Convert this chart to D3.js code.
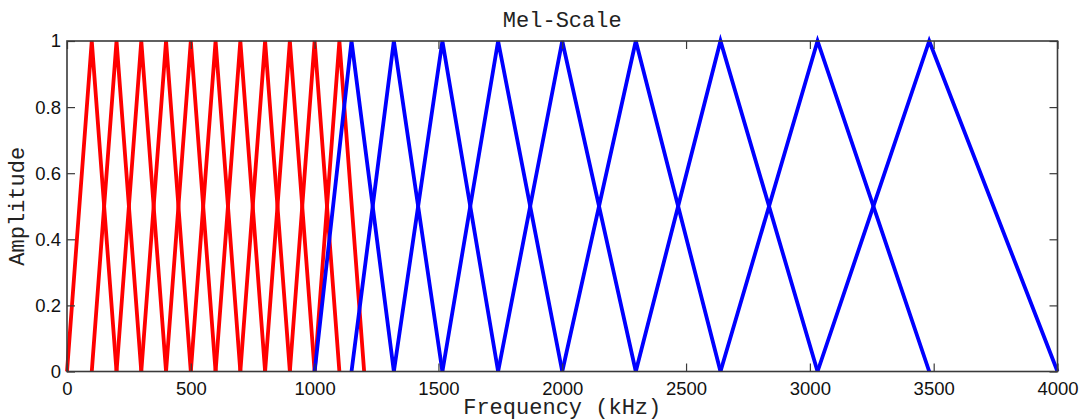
<!DOCTYPE html>
<html>
<head>
<meta charset="utf-8">
<script src="https://cdn.jsdelivr.net/npm/d3@7"></script>
<style>
  html, body { margin: 0; padding: 0; background: #fff; }
  svg { display: block; }
</style>
</head>
<body>
<svg id="chart" width="1079" height="419"></svg>
<script>
// Triangular filter bank: each filter is [start, peak, end] in Hz.
// Linear filters below 1 kHz, log-spaced filters above.
const linearFilters = [
  [0, 100, 200], [100, 200, 300], [200, 300, 400], [300, 400, 500],
  [400, 500, 600], [500, 600, 700], [600, 700, 800], [700, 800, 900],
  [800, 900, 1000], [900, 1000, 1100], [1000, 1100, 1200]
];
const logFilters = [
  [1000, 1149, 1320], [1149, 1320, 1516], [1320, 1516, 1741],
  [1516, 1741, 2000], [1741, 2000, 2297], [2000, 2297, 2639],
  [2297, 2639, 3031], [2639, 3031, 3482], [3031, 3482, 4000]
];
const xTicks = [0, 500, 1000, 1500, 2000, 2500, 3000, 3500, 4000];
const yTicks = [0, 0.2, 0.4, 0.6, 0.8, 1];

const svg = d3.select("#chart");
const plotLeft = 67, plotRight = 1057.5, plotTop = 41, plotBottom = 371.5;

const x = d3.scaleLinear().domain([0, 4000]).range([plotLeft, plotRight]);
const y = d3.scaleLinear().domain([0, 1]).range([plotBottom, plotTop]);

const axisColor = "#3a3a3a";
const tickFont = "'Liberation Sans', Arial, Helvetica, sans-serif";
const monoFont = "'Liberation Mono', 'Courier New', Courier, monospace";

// Filters
const line = d3.line().x(d => x(d[0])).y(d => y(d[1]));
function drawFilters(list, color) {
  svg.append("g").selectAll("path")
    .data(list)
    .join("path")
    .attr("d", f => line([[f[0], 0], [f[1], 1], [f[2], 0]]))
    .attr("fill", "none")
    .attr("stroke", color)
    .attr("stroke-width", 3.8)
    .attr("stroke-linejoin", "miter");
}
drawFilters(linearFilters, "#ff0000");
drawFilters(logFilters, "#0000ff");

// Axes: ticks point inward on all four sides
const tickLen = 8;
const bottomAxis = d3.axisBottom(x).tickValues(xTicks).tickSizeInner(-tickLen).tickSizeOuter(0).tickPadding(10).tickFormat(d3.format("d"));
const topAxis = d3.axisTop(x).tickValues(xTicks).tickSizeInner(-tickLen).tickSizeOuter(0).tickFormat("");
const leftAxis = d3.axisLeft(y).tickValues(yTicks).tickSizeInner(-tickLen).tickSizeOuter(0).tickPadding(6).tickFormat(d => d === 0 || d === 1 ? d3.format("d")(d) : d3.format(".1f")(d));
const rightAxis = d3.axisRight(y).tickValues(yTicks).tickSizeInner(-tickLen).tickSizeOuter(0).tickFormat("");

function styleAxis(g) {
  g.select(".domain").remove();
  g.selectAll(".tick line").attr("stroke", axisColor).attr("stroke-width", 1.2);
  g.selectAll(".tick text").attr("fill", "#111").style("font-family", tickFont).style("font-size", "18.5px");
}
svg.append("g").attr("transform", `translate(0,${plotBottom})`).call(bottomAxis).call(styleAxis);
svg.append("g").attr("transform", `translate(0,${plotTop})`).call(topAxis).call(styleAxis);
svg.append("g").attr("transform", `translate(${plotLeft},0)`).call(leftAxis).call(styleAxis);
svg.append("g").attr("transform", `translate(${plotRight},0)`).call(rightAxis).call(styleAxis);

// Frame
svg.append("rect")
  .attr("x", plotLeft).attr("y", plotTop)
  .attr("width", plotRight - plotLeft).attr("height", plotBottom - plotTop)
  .attr("fill", "none").attr("stroke", axisColor).attr("stroke-width", 1.6);

// Titles
svg.append("text")
  .attr("x", (plotLeft + plotRight) / 2).attr("y", 27)
  .attr("text-anchor", "middle")
  .style("font-family", monoFont).style("font-size", "22px").attr("fill", "#222")
  .text("Mel-Scale");

svg.append("text")
  .attr("x", (plotLeft + plotRight) / 2).attr("y", 414)
  .attr("text-anchor", "middle")
  .style("font-family", monoFont).style("font-size", "22px").attr("fill", "#222")
  .text("Frequency (kHz)");

svg.append("text")
  .attr("transform", `translate(24,${(plotTop + plotBottom) / 2}) rotate(-90)`)
  .attr("text-anchor", "middle")
  .style("font-family", monoFont).style("font-size", "22px").attr("fill", "#222")
  .text("Amplitude");
</script>
</body>
</html>
